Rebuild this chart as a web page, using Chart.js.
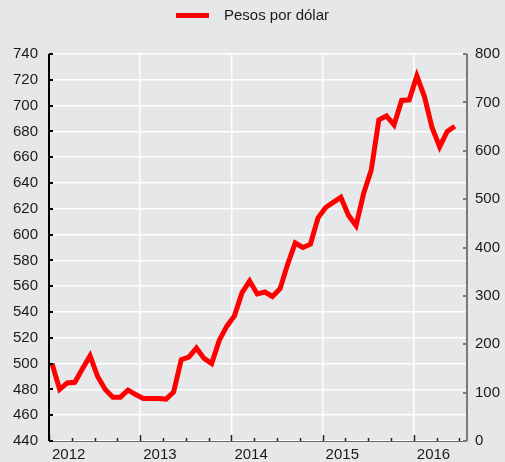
<!DOCTYPE html>
<html>
<head>
<meta charset="utf-8">
<script src="https://cdn.jsdelivr.net/npm/chart.js@4.4.1/dist/chart.umd.min.js"></script>
<style>
    html, body { margin: 0; padding: 0; background: #e6e7e8; }
</style>
</head>
<body>
<canvas id="chart" width="505" height="462"></canvas>
<script>
// =======================
// DATA
// =======================
let years = ["2012", "2013", "2014", "2015", "2016"];
let seriesName = "Pesos por dólar";

// monthly values, Jan 2012 .. Jun 2016
let pesos = [
    500, 480, 485, 485.5, 496, 506, 490, 480, 474, 474, 479.5, 476,
    473, 473, 473, 472.5, 478, 503, 505, 512, 504, 500, 518, 529,
    537, 555, 564, 554, 555.5, 552, 558, 577, 593.5, 590, 592.5, 613,
    621, 625, 629, 615, 607, 632, 650, 689, 692, 685, 704, 704.5,
    723, 707, 683, 668, 680, 684
];

let leftTicks = [440, 460, 480, 500, 520, 540, 560, 580, 600, 620, 640, 660, 680, 700, 720, 740];
let rightTicks = [0, 100, 200, 300, 400, 500, 600, 700, 800];

// =======================
// SETTINGS
// =======================
const FONT = "'Liberation Sans', Arial, sans-serif";
const TEXT = "#1a1a1a";
const RED = "#ff0000";

let points = pesos.map((v, i) => ({ x: i + 0.4, y: v }));
let yearStarts = years.map((y, i) => i * 12);

// =======================
// PLUGIN: background, axes, legend
// =======================
const decor = {
    id: "decor",
    beforeDraw(chart) {
        const ctx = chart.ctx;
        ctx.save();
        ctx.fillStyle = "#e6e7e8";
        ctx.fillRect(0, 0, chart.width, chart.height);
        ctx.restore();
    },
    afterDraw(chart) {
        const ctx = chart.ctx;
        const a = chart.chartArea;
        const x = chart.scales.x;
        const yl = chart.scales.y;
        const yr = chart.scales.y2;

        ctx.save();

        // bottom axis
        ctx.strokeStyle = "#666";
        ctx.lineWidth = 1;
        ctx.beginPath();
        ctx.moveTo(a.left, a.bottom + 0.5);
        ctx.lineTo(a.right, a.bottom + 0.5);
        ctx.stroke();

        ctx.strokeStyle = "#222";
        ctx.lineWidth = 1.5;
        for (let m = 0; m <= 54; m += 3) {
            let px = Math.round(x.getPixelForValue(m)) + 0.5;
            let len = m % 12 === 0 ? 6 : 3;
            ctx.beginPath();
            ctx.moveTo(px, a.bottom);
            ctx.lineTo(px, a.bottom - len);
            ctx.stroke();
        }

        // left axis
        ctx.strokeStyle = "#000";
        ctx.lineWidth = 2;
        ctx.beginPath();
        ctx.moveTo(a.left, a.top);
        ctx.lineTo(a.left, a.bottom);
        ctx.stroke();
        leftTicks.forEach(v => {
            let py = Math.round(yl.getPixelForValue(v));
            ctx.beginPath();
            ctx.moveTo(a.left, py);
            ctx.lineTo(a.left + 4, py);
            ctx.stroke();
        });

        // right axis
        ctx.strokeStyle = "#7a7a7a";
        ctx.beginPath();
        ctx.moveTo(a.right, a.top);
        ctx.lineTo(a.right, a.bottom);
        ctx.stroke();
        rightTicks.forEach(v => {
            let py = Math.round(yr.getPixelForValue(v));
            ctx.beginPath();
            ctx.moveTo(a.right, py);
            ctx.lineTo(a.right - 4, py);
            ctx.stroke();
        });

        // legend
        ctx.font = "15px " + FONT;
        let tw = ctx.measureText(seriesName).width;
        let total = 33 + 15 + tw;
        let lx = (chart.width - total) / 2;
        ctx.fillStyle = RED;
        ctx.fillRect(lx, 13, 33, 5);
        ctx.fillStyle = TEXT;
        ctx.textBaseline = "middle";
        ctx.fillText(seriesName, lx + 48, 16);

        ctx.restore();
    }
};

// =======================
// CHART
// =======================
new Chart(document.getElementById("chart"), {
    type: "line",
    data: {
        datasets: [{
            label: seriesName,
            data: points,
            borderColor: RED,
            borderWidth: 5,
            pointRadius: 0,
            tension: 0,
            yAxisID: "y"
        }]
    },
    options: {
        responsive: false,
        animation: false,
        events: [],
        layout: { padding: { top: 54, left: 0, right: 0, bottom: 0 } },
        plugins: {
            legend: { display: false },
            tooltip: { enabled: false }
        },
        scales: {
            x: {
                type: "linear",
                min: 0,
                max: 55,
                afterBuildTicks: s => { s.ticks = yearStarts.map(v => ({ value: v })); },
                afterFit: s => { s.height = 21; },
                grid: {
                    color: c => (c.tick && c.tick.value === 0) ? "rgba(0,0,0,0)" : "#ffffff",
                    lineWidth: 1.5,
                    drawTicks: false
                },
                border: { display: false },
                ticks: {
                    align: "start",
                    labelOffset: 3,
                    padding: 5,
                    autoSkip: false,
                    maxRotation: 0,
                    color: TEXT,
                    font: { family: FONT, size: 15 },
                    callback: (v, i) => years[i]
                }
            },
            y: {
                position: "left",
                min: 440,
                max: 740,
                afterBuildTicks: s => { s.ticks = leftTicks.map(v => ({ value: v })); },
                afterFit: s => { s.width = 49; },
                grid: { color: "#ffffff", lineWidth: 1.5, drawTicks: false },
                border: { display: false },
                ticks: {
                    padding: 11,
                    color: TEXT,
                    font: { family: FONT, size: 15 }
                }
            },
            y2: {
                position: "right",
                min: 0,
                max: 800,
                afterBuildTicks: s => { s.ticks = rightTicks.map(v => ({ value: v })); },
                afterFit: s => { s.width = 38; },
                grid: { display: false, drawTicks: false },
                border: { display: false },
                ticks: {
                    padding: 8,
                    color: TEXT,
                    font: { family: FONT, size: 15 }
                }
            }
        }
    },
    plugins: [decor]
});
</script>
</body>
</html>
